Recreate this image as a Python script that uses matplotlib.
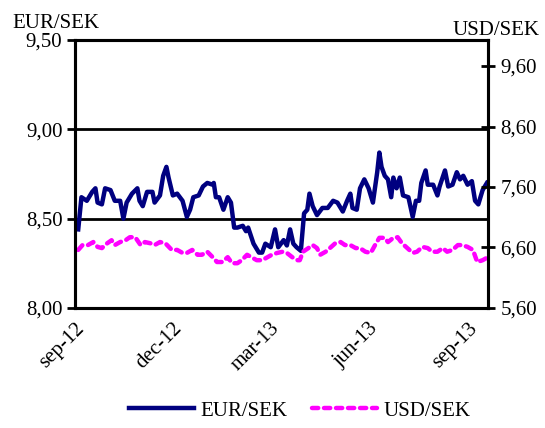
import pandas as pd
import matplotlib
matplotlib.use("Agg")
import matplotlib.pyplot as plt
from matplotlib.ticker import FuncFormatter

plt.rcParams['font.family'] = ['Liberation Serif', 'DejaVu Serif']

# EUR/SEK
eur_dates = [
    "2012-09-04", "2012-09-07", "2012-09-12", "2012-09-17", "2012-09-20", "2012-09-22",
    "2012-09-26", "2012-09-29", "2012-10-04", "2012-10-08", "2012-10-13", "2012-10-16",
    "2012-10-19", "2012-10-24", "2012-10-29", "2012-10-31", "2012-11-03", "2012-11-07",
    "2012-11-12", "2012-11-14", "2012-11-19", "2012-11-22", "2012-11-25", "2012-11-27",
    "2012-12-01", "2012-12-05", "2012-12-10", "2012-12-14", "2012-12-17", "2012-12-20",
    "2012-12-25", "2012-12-29", "2013-01-02", "2013-01-07", "2013-01-08", "2013-01-10",
    "2013-01-13", "2013-01-17", "2013-01-21", "2013-01-24", "2013-01-27", "2013-01-30",
    "2013-02-04", "2013-02-07", "2013-02-09", "2013-02-14", "2013-02-19", "2013-02-22",
    "2013-02-25", "2013-03-02", "2013-03-06", "2013-03-09", "2013-03-14", "2013-03-17",
    "2013-03-20", "2013-03-23", "2013-03-26", "2013-03-30", "2013-04-02", "2013-04-05",
    "2013-04-07", "2013-04-10", "2013-04-14", "2013-04-19", "2013-04-24", "2013-04-29",
    "2013-05-03", "2013-05-08", "2013-05-12", "2013-05-15", "2013-05-17", "2013-05-21",
    "2013-05-24", "2013-05-28", "2013-06-01", "2013-06-05", "2013-06-09", "2013-06-11",
    "2013-06-13", "2013-06-16", "2013-06-19", "2013-06-22", "2013-06-24", "2013-06-27",
    "2013-06-30", "2013-07-03", "2013-07-08", "2013-07-12", "2013-07-15", "2013-07-18",
    "2013-07-20", "2013-07-24", "2013-07-26", "2013-07-31", "2013-08-04", "2013-08-06",
    "2013-08-11", "2013-08-14", "2013-08-18", "2013-08-22", "2013-08-25", "2013-08-28",
    "2013-09-01", "2013-09-05", "2013-09-08", "2013-09-11", "2013-09-15", "2013-09-19",
]
eur_sek = [
    8.44, 8.62, 8.60, 8.65, 8.67, 8.59, 8.58, 8.67, 8.66, 8.60, 8.60, 8.50,
    8.59, 8.64, 8.67, 8.60, 8.57, 8.65, 8.65, 8.59, 8.63, 8.74, 8.79, 8.73,
    8.63, 8.64, 8.60, 8.51, 8.55, 8.62, 8.63, 8.68, 8.70, 8.69, 8.70, 8.62,
    8.62, 8.55, 8.62, 8.59, 8.45, 8.45, 8.46, 8.43, 8.45, 8.36, 8.31, 8.31,
    8.36, 8.34, 8.44, 8.34, 8.38, 8.35, 8.44, 8.36, 8.34, 8.32, 8.53, 8.55,
    8.64, 8.57, 8.52, 8.56, 8.56, 8.60, 8.59, 8.54, 8.60, 8.64, 8.56, 8.55,
    8.67, 8.72, 8.67, 8.59, 8.76, 8.87, 8.79, 8.74, 8.72, 8.62, 8.73, 8.67,
    8.73, 8.63, 8.62, 8.51, 8.60, 8.60, 8.70, 8.77, 8.69, 8.69, 8.63, 8.68,
    8.77, 8.68, 8.69, 8.76, 8.72, 8.74, 8.69, 8.71, 8.60, 8.58, 8.66, 8.70,
]

# USD/SEK
usd_dates = [
    "2012-09-04", "2012-09-08", "2012-09-13", "2012-09-18", "2012-09-22", "2012-09-26",
    "2012-10-01", "2012-10-05", "2012-10-08", "2012-10-13", "2012-10-18", "2012-10-22",
    "2012-10-27", "2012-11-01", "2012-11-05", "2012-11-10", "2012-11-14", "2012-11-19",
    "2012-11-24", "2012-11-30", "2012-12-05", "2012-12-10", "2012-12-14", "2012-12-19",
    "2012-12-24", "2012-12-28", "2013-01-02", "2013-01-07", "2013-01-11", "2013-01-16",
    "2013-01-21", "2013-01-25", "2013-01-30", "2013-02-03", "2013-02-08", "2013-02-13",
    "2013-02-17", "2013-02-22", "2013-02-27", "2013-03-03", "2013-03-08", "2013-03-13",
    "2013-03-17", "2013-03-22", "2013-03-27", "2013-03-29", "2013-04-01", "2013-04-06",
    "2013-04-10", "2013-04-14", "2013-04-17", "2013-04-22", "2013-04-26", "2013-05-01",
    "2013-05-06", "2013-05-10", "2013-05-15", "2013-05-20", "2013-05-24", "2013-05-29",
    "2013-06-03", "2013-06-07", "2013-06-11", "2013-06-16", "2013-06-19", "2013-06-24",
    "2013-06-28", "2013-07-02", "2013-07-07", "2013-07-12", "2013-07-16", "2013-07-21",
    "2013-07-26", "2013-07-30", "2013-08-04", "2013-08-09", "2013-08-13", "2013-08-18",
    "2013-08-23", "2013-08-27", "2013-09-01", "2013-09-06", "2013-09-10", "2013-09-15",
    "2013-09-20",
]
usd_sek = [
    6.56, 6.64, 6.64, 6.69, 6.61, 6.59, 6.67, 6.72, 6.64, 6.69, 6.72, 6.77,
    6.77, 6.64, 6.69, 6.67, 6.64, 6.69, 6.67, 6.56, 6.56, 6.51, 6.51, 6.56,
    6.48, 6.48, 6.53, 6.44, 6.36, 6.36, 6.44, 6.34, 6.34, 6.39, 6.48, 6.43,
    6.39, 6.39, 6.44, 6.48, 6.51, 6.53, 6.51, 6.44, 6.39, 6.39, 6.53, 6.59,
    6.64, 6.59, 6.48, 6.53, 6.59, 6.67, 6.69, 6.64, 6.64, 6.59, 6.59, 6.53,
    6.51, 6.64, 6.76, 6.76, 6.69, 6.76, 6.77, 6.67, 6.59, 6.51, 6.53, 6.61,
    6.59, 6.53, 6.53, 6.59, 6.53, 6.56, 6.64, 6.64, 6.61, 6.56, 6.36, 6.39,
    6.44,
]

tick_dates = ["2012-09-01", "2012-12-01", "2013-03-01", "2013-06-01", "2013-09-01"]
tick_labels = ["sep-12", "dec-12", "mar-13", "jun-13", "sep-13"]
eur_ticks = [8.00, 8.50, 9.00, 9.50]
usd_ticks = [5.60, 6.60, 7.60, 8.60, 9.60]

comma = FuncFormatter(lambda v, p: f"{v:.2f}".replace(".", ","))

fig = plt.figure(figsize=(5.45, 4.28), dpi=100)
ax = fig.add_axes([0.1376, 0.2804, 0.7578, 0.6261])
ax2 = ax.twinx()

ax.plot(pd.to_datetime(eur_dates), eur_sek, color="#000080", lw=3.2,
        solid_joinstyle="round", label="EUR/SEK", zorder=3)
ax2.plot(pd.to_datetime(usd_dates), usd_sek, color="#FF00FF", lw=3.2,
         dashes=(1.4, 1.3), dash_capstyle="round", label="USD/SEK")

ax.set_xlim(pd.Timestamp("2012-09-01"), pd.Timestamp("2013-09-20"))
ax.set_ylim(8.0, 9.5)
ax2.set_ylim(5.6, 10.03)

ax.set_yticks(eur_ticks)
ax.yaxis.set_major_formatter(comma)
ax2.set_yticks(usd_ticks)
ax2.yaxis.set_major_formatter(comma)

ax.set_xticks(pd.to_datetime(tick_dates))
ax.set_xticklabels(tick_labels, rotation=45, ha="right", rotation_mode="anchor")

ax.yaxis.grid(True, color="black", lw=2)
ax.set_axisbelow(True)

for a in (ax, ax2):
    for s in a.spines.values():
        s.set_linewidth(2.2)
        s.set_color("black")

ax.tick_params(axis="y", direction="out", length=6, width=2, labelsize=15, pad=3)
ax.tick_params(axis="x", length=0, labelsize=15, pad=8)
ax2.tick_params(axis="y", direction="inout", length=10, width=2, labelsize=15, pad=4)

fig.text(0.022, 0.935, "EUR/SEK", fontsize=15, ha="left", va="baseline")
fig.text(0.99, 0.918, "USD/SEK", fontsize=15, ha="right", va="baseline")

h1, l1 = ax.get_legend_handles_labels()
h2, l2 = ax2.get_legend_handles_labels()
fig.legend(h1 + h2, l1 + l2, loc="center", bbox_to_anchor=(0.55, 0.04), ncol=2,
           frameon=False, fontsize=15, handlelength=3.1, handletextpad=0.3,
           columnspacing=1.2)

fig.savefig("out.png", dpi=100)
